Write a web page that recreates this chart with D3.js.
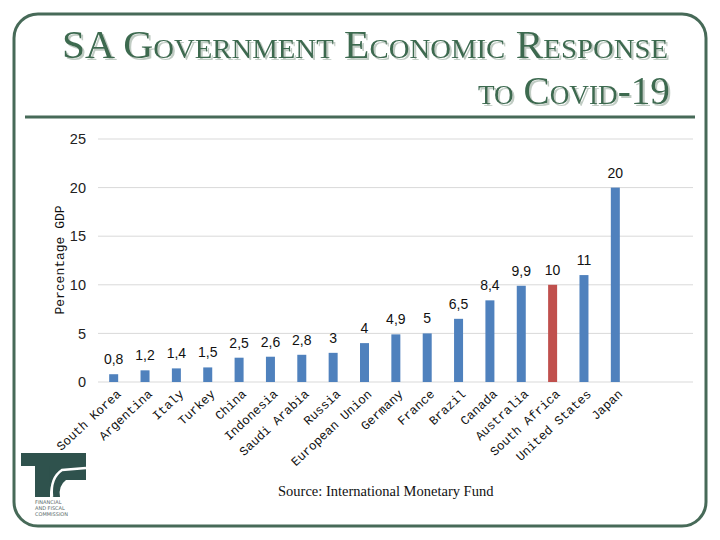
<!DOCTYPE html>
<html><head><meta charset="utf-8">
<script src="https://cdn.jsdelivr.net/npm/d3@7"></script>
<style>body{margin:0;background:#fff}svg{display:block}</style>
</head><body>
<svg id="c" width="720" height="540"></svg>
<script>
const categories = ["South Korea","Argentina","Italy","Turkey","China","Indonesia","Saudi Arabia","Russia","European Union","Germany","France","Brazil","Canada","Australia","South Africa","United States","Japan"];
const values = [0.8,1.2,1.4,1.5,2.5,2.6,2.8,3,4,4.9,5,6.5,8.4,9.9,10,11,20];
const valueLabels = ["0,8","1,2","1,4","1,5","2,5","2,6","2,8","3","4","4,9","5","6,5","8,4","9,9","10","11","20"];
const highlight = "South Africa";
const yTicks = [0,5,10,15,20,25];
const titleLine1 = "SA Government Economic Response";
const titleLine2 = "to Covid-19";
const yAxisTitle = "Percentage GDP";
const sourceText = "Source: International Monetary Fund";
const logoLines = ["FINANCIAL","AND FISCAL","COMMISSION"];

const svg = d3.select("#c");
const green = "#476a58";

const defs = svg.append("defs");
const f = defs.append("filter").attr("id","sh").attr("x","-5%").attr("y","-20%").attr("width","110%").attr("height","150%");
f.append("feDropShadow").attr("dx",2).attr("dy",2).attr("stdDeviation",0.6)
  .attr("flood-color","#b9c6bd").attr("flood-opacity",0.9);

// frame
svg.append("rect").attr("x",14).attr("y",14).attr("width",692).attr("height",512)
  .attr("rx",24).attr("ry",24).attr("fill","none").attr("stroke",green).attr("stroke-width",3);
svg.append("line").attr("x1",25).attr("x2",695).attr("y1",117).attr("y2",117)
  .attr("stroke",green).attr("stroke-width",3);

// title
function titleText(txt, x, y, len){
  svg.append("text").attr("x",x).attr("y",y)
    .attr("font-family","Liberation Serif").attr("font-size",39)
    .style("font-variant","small-caps").attr("fill","#3d6a50").attr("filter","url(#sh)")
    .attr("textLength",len).attr("lengthAdjust","spacingAndGlyphs").text(txt);
}
titleText(titleLine1, 62, 58, 606);
titleText(titleLine2, 478, 104, 192);

// scales
const x = d3.scaleBand().domain(categories).range([98,631]);
const y = d3.scaleLinear().domain([0,25]).range([382,139]);

// gridlines
svg.append("g").selectAll("line").data(yTicks).join("line")
  .attr("x1",98).attr("x2",693).attr("y1",d=>y(d)).attr("y2",d=>y(d))
  .attr("stroke","#d9d9d9").attr("stroke-width",1);

// y axis labels
const yAxis = d3.axisLeft(y).tickValues(yTicks).tickSize(0).tickPadding(0).tickFormat(d3.format("d"));
const ya = svg.append("g").attr("transform","translate(86,0)").call(yAxis);
ya.select(".domain").remove();
ya.selectAll("text").attr("font-family","Liberation Sans").attr("font-size",14.5).attr("fill","#222");

svg.append("text").attr("transform","translate(64,260) rotate(-90)").attr("text-anchor","middle")
  .attr("font-family","Liberation Mono").attr("font-size",13).attr("fill","#111").text(yAxisTitle);

// bars
const bw = 9;
svg.append("g").selectAll("rect").data(categories).join("rect")
  .attr("x",d=>x(d)+x.bandwidth()/2-bw/2).attr("width",bw)
  .attr("y",(d,i)=>y(values[i])).attr("height",(d,i)=>y(0)-y(values[i]))
  .attr("fill",d=>d===highlight?"#c0504d":"#4f81bd");

// value labels
svg.append("g").selectAll("text").data(categories).join("text")
  .attr("x",d=>x(d)+x.bandwidth()/2).attr("y",(d,i)=>y(values[i])-10)
  .attr("text-anchor","middle").attr("font-family","Liberation Sans").attr("font-size",14).attr("fill","#111")
  .text((d,i)=>valueLabels[i]);

// x labels
const xAxis = d3.axisBottom(x).tickSize(0).tickPadding(0);
const xa = svg.append("g").attr("transform","translate(0,382)").call(xAxis);
xa.select(".domain").remove();
xa.selectAll("text")
  .attr("font-family","Liberation Mono").attr("font-size",12.5).attr("fill","#111")
  .attr("text-anchor","end").attr("dy",null).attr("y",null)
  .attr("transform","translate(8,13) rotate(-43)");

// source
svg.append("text").attr("x",278).attr("y",496).attr("font-family","Liberation Serif").attr("font-size",14.5)
  .attr("fill","#111").text(sourceText);

// logo
const lg = svg.append("g").attr("fill","#2f524d");
lg.append("rect").attr("x",21).attr("y",453).attr("width",65).attr("height",13);
lg.append("rect").attr("x",35).attr("y",466).attr("width",15).attr("height",31);
lg.append("path").attr("d","M50,466 L86,466 L86,480 L66,480 Q58,486 60,497 L52,497 Q48,480 50,466 Z");
lg.append("path").attr("d","M52,497 Q50,478 62,470 L86,468").attr("fill","none").attr("stroke","#fff").attr("stroke-width",2.5);
svg.append("g").selectAll("text").data(logoLines).join("text")
  .attr("x",35).attr("y",(d,i)=>504+i*6).attr("font-family","DejaVu Sans").attr("font-size",5)
  .attr("fill","#5a6b6a").text(d=>d);
</script>
</body></html>
